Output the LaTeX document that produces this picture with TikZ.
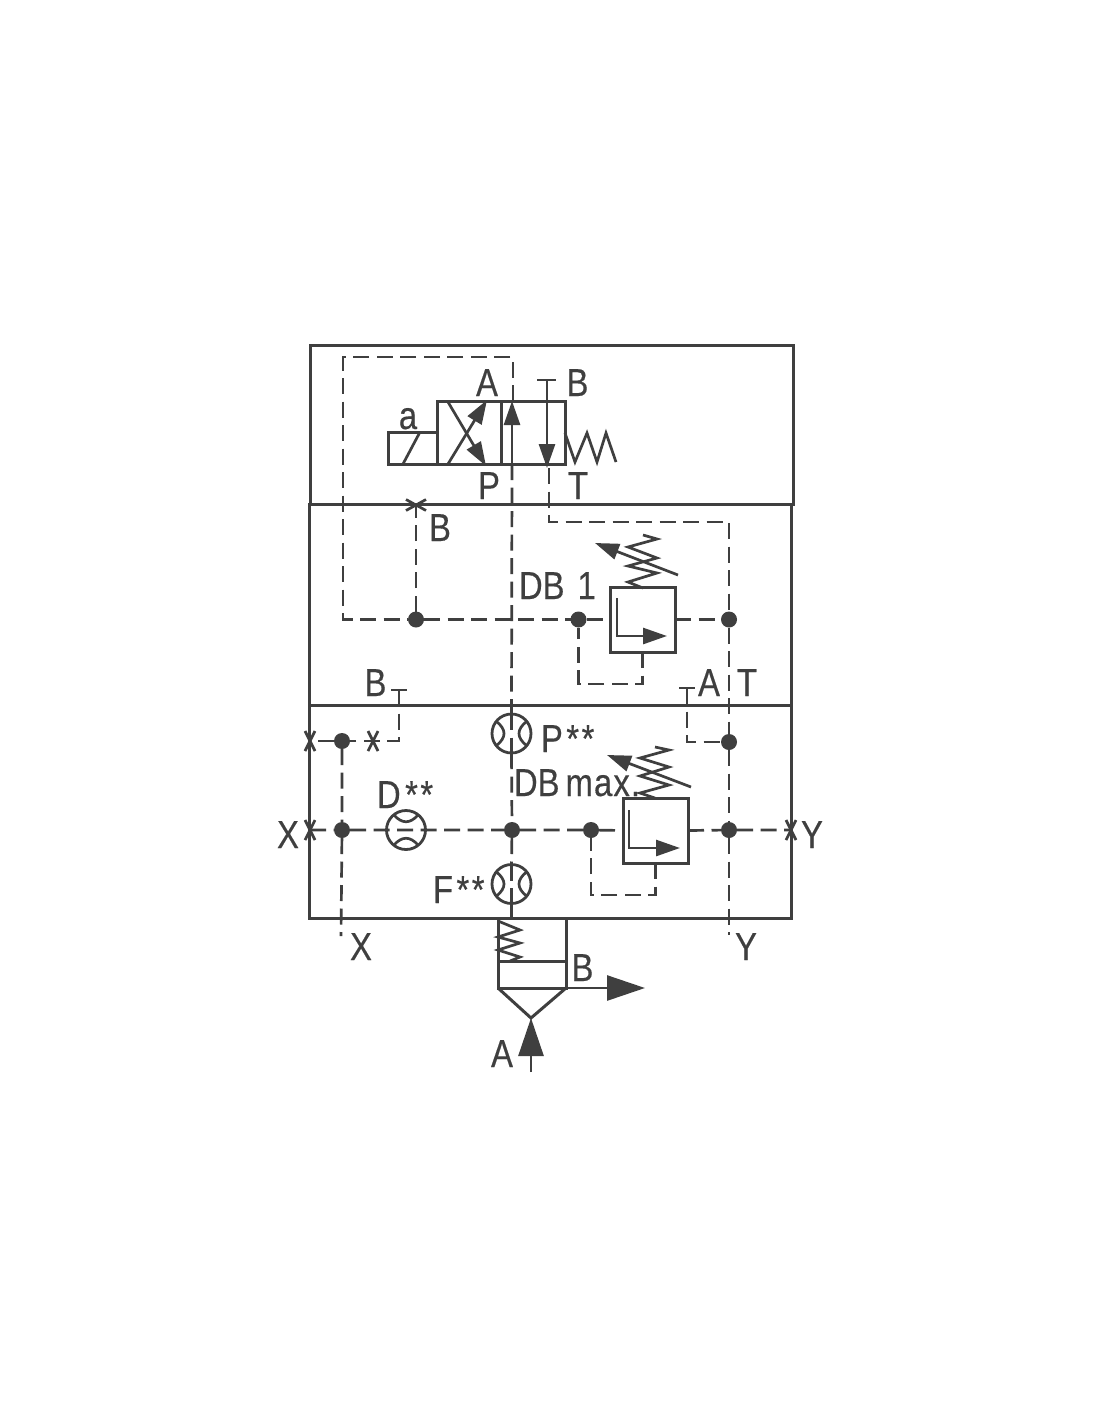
\documentclass[tikz,border=0pt]{standalone}
\usepackage{fontspec}
\setmainfont[FakeStretch=0.84,FakeBold=0.35]{Liberation Sans}
\usetikzlibrary{arrows.meta}
\definecolor{ink}{HTML}{3F3F3F}
\tikzset{
  base/.style={draw=ink,line width=3pt,line join=miter},
  thin line/.style={draw=ink,line width=2.7pt},
  dash line/.style={draw=ink,line width=2.7pt,dash pattern=on 16pt off 7.5pt},
  blockbox/.style={draw=ink,line width=3pt,rectangle,inner sep=0pt,outer sep=0pt},
  valvebox/.style={draw=ink,line width=3pt,rectangle,inner sep=0pt,outer sep=0pt},
  junction/.style={circle,fill=ink,inner sep=0pt,outer sep=0pt,minimum size=16pt},
  orifice/.style={circle,draw=ink,line width=2.8pt,inner sep=0pt,outer sep=0pt,minimum size=39pt},
  lbl/.style={text=ink,inner sep=0pt,outer sep=0pt,anchor=base,font=\fontsize{39}{39}\selectfont},
  lbll/.style={lbl,anchor=base west},
  big/.style={-{Triangle[length=24pt,width=16pt]}},
  bigger/.style={-{Triangle[length=38pt,width=25pt]}},
}
\newcommand{\crossmark}[1]{%
  \draw[thin line] ([shift={(-5,-10)}]#1) -- ([shift={(5,10)}]#1);
  \draw[thin line] ([shift={(-5,10)}]#1) -- ([shift={(5,-10)}]#1);}
\newcommand{\crossmarkflat}[1]{%
  \draw[thin line] ([shift={(-10,-5.5)}]#1) -- ([shift={(10,5.5)}]#1);
  \draw[thin line] ([shift={(-10,5.5)}]#1) -- ([shift={(10,-5.5)}]#1);}
\begin{document}
\begin{tikzpicture}[x=1pt,y=-1pt]
\useasboundingbox[fill=white] (0,0) rectangle (1100,1422);
% blocks
\node[blockbox,minimum width=483pt,minimum height=159pt] (blockA) at (551.5,424.5) {};
\node[blockbox,minimum width=482pt,minimum height=201pt] (blockB) at (550,604.5) {};
\node[blockbox,minimum width=482pt,minimum height=213pt] (blockC) at (550,811.5) {};
% pilot valve
\node[valvebox,minimum width=128pt,minimum height=63pt] (valve) at (501,432.5) {};
\node[valvebox,minimum width=49pt,minimum height=32pt] (sol) at (412.5,448) {};
\coordinate (solA) at (403,464); \coordinate (solB) at (420,432);
\draw[thin line] (solA) -- (solB);
\coordinate (divT) at (501,401); \coordinate (divB) at (501,464);
\draw[base] (divT) -- (divB);
\coordinate (xa) at (448,464); \coordinate (xb) at (487,400);
\coordinate (xc) at (448,402); \coordinate (xd) at (486,466);
\draw[thin line,big] (xa) -- (xb);
\draw[thin line,big] (xc) -- (xd);
\coordinate (pIn) at (512,464); \coordinate (pOut) at (512,401);
\draw[thin line,big] (pIn) -- (pOut);
\coordinate (tTop) at (547,380); \coordinate (tTip) at (547,468);
\draw[thin line,big] (tTop) -- (tTip);
\draw[thin line] (537,380) -- (556,380);
\draw[thin line] (565,433) -- (575,462) -- (587,433) -- (597,462) -- (606,433) -- (616,462);
% junctions
\node[junction] (j1) at (416,619.5) {};
\node[junction] (j2) at (578.5,619.5) {};
\node[junction] (j3) at (729,619.5) {};
\node[junction] (j4) at (342,741) {};
\node[junction] (j5) at (729,742) {};
\node[junction] (j6) at (342,830) {};
\node[junction] (j7) at (512,830) {};
\node[junction] (j8) at (591,830) {};
\node[junction] (j9) at (729,830) {};
% relief valves
\node[valvebox,minimum width=65pt,minimum height=65pt] (db1) at (642.5,619.5) {};
\node[valvebox,minimum width=65pt,minimum height=65pt] (dbm) at (655.5,830.5) {};
% orifices
\node[orifice] (orP) at (511.5,733.5) {};
\node[orifice] (orD) at (406,830) {};
\node[orifice] (orF) at (511.5,884) {};
\begin{scope}[shift={(orP)}]
\draw[thin line] (-15,-12) .. controls (-5,-4) and (-5,4) .. (-15,12);
\draw[thin line] (15,-12) .. controls (5,-4) and (5,4) .. (15,12);
\end{scope}
\begin{scope}[shift={(orF)}]
\draw[thin line] (-15,-12) .. controls (-5,-4) and (-5,4) .. (-15,12);
\draw[thin line] (15,-12) .. controls (5,-4) and (5,4) .. (15,12);
\end{scope}
\begin{scope}[shift={(orD)}]
\draw[thin line] (-12,-15) .. controls (-4,-6) and (4,-6) .. (12,-15);
\draw[thin line] (-12,15) .. controls (-4,6) and (4,6) .. (12,15);
\end{scope}
% dashed pilot lines
\coordinate (loopA) at (343,619.5); \coordinate (loopB) at (343,357); \coordinate (loopC) at (513,357); \coordinate (loopD) at (513,401);
\draw[dash line] (loopD) -- (loopC) -- (loopB) -- (loopA) -- (j1) -- (j2) -- (db1.west);
\coordinate (bCross) at (416,505);
\draw[dash line] (j1) -- (bCross);
\crossmarkflat{bCross}
\draw[dash line] (pIn) -- (orP.north);
\draw[dash line] (orP.south) -- (j7) -- (orF.north);
\draw[dash line] (orP.north) -- (orP.south);
\draw[dash line] (orF.north) -- (orF.south);
\coordinate (tIn) at (549,468); \coordinate (tC) at (549,522); \coordinate (tD) at (729,522);
\draw[dash line] (tIn) -- (tC) -- (tD) -- (j3);
\draw[dash line] (db1.east) -- (j3);
\draw[dash line] (j3) -- (j5) -- (j9);
\coordinate (yEnd) at (729,935);
\draw[dash line] (j9) -- (yEnd);
\coordinate (loop1a) at (578.5,684); \coordinate (loop1b) at (642.5,684);
\draw[dash line] (db1.south) -- (loop1b) -- (loop1a) -- (j2);
\coordinate (loop2a) at (591,895); \coordinate (loop2b) at (655.5,895);
\draw[dash line] (dbm.south) -- (loop2b) -- (loop2a) -- (j8);
% X line etc.
\coordinate (cL1) at (310,741); \coordinate (cM1) at (373,741); \coordinate (bStub) at (399,690); \coordinate (bElbow) at (399,741);
\draw[dash line] (bStub) -- (bElbow) -- (j4) -- (cL1);
\draw[thin line] (391,690) -- (407,690);
\crossmark{cL1} \crossmark{cM1}
\coordinate (aStub) at (687,688); \coordinate (aElbow) at (687,742);
\draw[dash line] (aStub) -- (aElbow) -- (j5);
\draw[thin line] (679,688) -- (695,688);
\coordinate (cL2) at (310,830); \coordinate (cR2) at (791,830); \coordinate (xEnd) at (341,936);
\crossmark{cL2} \crossmark{cR2}
\draw[dash line] (j4) -- (j6) -- (xEnd);
\draw[dash line] (cL2) -- (j6) -- (orD.west) -- (orD.east) -- (j7) -- (j8) -- (dbm.west);
\draw[dash line] (dbm.east) -- (j9) -- (cR2);
% DB1 internals
\draw[thin line,big] (617,598) |- (667,636);
\draw[thin line] (643,535) -- (657,539) -- (628,547) -- (657,558) -- (628,566) -- (657,573) -- (628,582) -- (643,588);
\coordinate (db1tail) at (678,575); \coordinate (db1tip) at (595,543);
\draw[thin line,big] (db1tail) -- (db1tip);
% DB max internals
\draw[thin line,big] (629,810) |- (680,848);
\draw[thin line] (655,798) -- (640,793) -- (669,785) -- (640,776) -- (669,767) -- (640,758) -- (669,750) -- (655,747);
\coordinate (dbmtail) at (691,787); \coordinate (dbmtip) at (607,755);
\draw[thin line,big] (dbmtail) -- (dbmtip);
% main valve
\node[blockbox,minimum width=68pt,minimum height=70pt] (main) at (532,953) {};
\coordinate (mDivL) at (498,961); \coordinate (mDivR) at (566,961);
\draw[base] (mDivL) -- (mDivR);
\coordinate (seat) at (531,1018);
\draw[base] (main.south west) -- (seat) -- (main.south east);
\draw[thin line] (orF.south) -- (511.5,918);
\draw[thin line] (498,921) -- (520,930) -- (498,937) -- (520,943) -- (498,950) -- (520,957) -- (510,961);
\coordinate (bTip) at (645,988);
\draw[thin line,bigger] (main.south east) -- (bTip);
\coordinate (aTail) at (531,1072);
\draw[thin line,bigger] (aTail) -- (seat);
% labels
\node[lbl] (la) at (408,429) {a};
\node[lbl] (lA1) at (487,396) {A};
\node[lbl] (lB1) at (577.5,396) {B};
\node[lbl] (lP1) at (489,499) {P};
\node[lbl] (lT1) at (578,499) {T};
\node[lbl] (lB2) at (440,541) {B};
\node[lbll] (lDB1) at (519,599) {DB\kern4pt{} 1};
\node[lbl] (lB3) at (375.5,696) {B};
\node[lbl] (lA2) at (709,696) {A};
\node[lbl] (lT2) at (747,696) {T};
\node[lbll] (lPs) at (541,752) {P\kern3.5pt*\kern2.5pt*};
\node[lbll] (lDs) at (377,808) {D\kern4.5pt*\kern2.5pt*};
\node[lbll] (lDBm) at (514,796) {DB\kern-3pt{} {\addfontfeature{LetterSpace=3}max.}};
\node[lbll] (lFs) at (433,903) {F\kern3.5pt*\kern2.5pt*};
\node[lbl] (lX1) at (288,848) {X};
\node[lbl] (lY1) at (812,848) {Y};
\node[lbl] (lX2) at (361,960) {X};
\node[lbl] (lY2) at (746,960) {Y};
\node[lbl] (lB4) at (582.5,981) {B};
\node[lbl] (lA3) at (502,1067) {A};
\end{tikzpicture}
\end{document}
